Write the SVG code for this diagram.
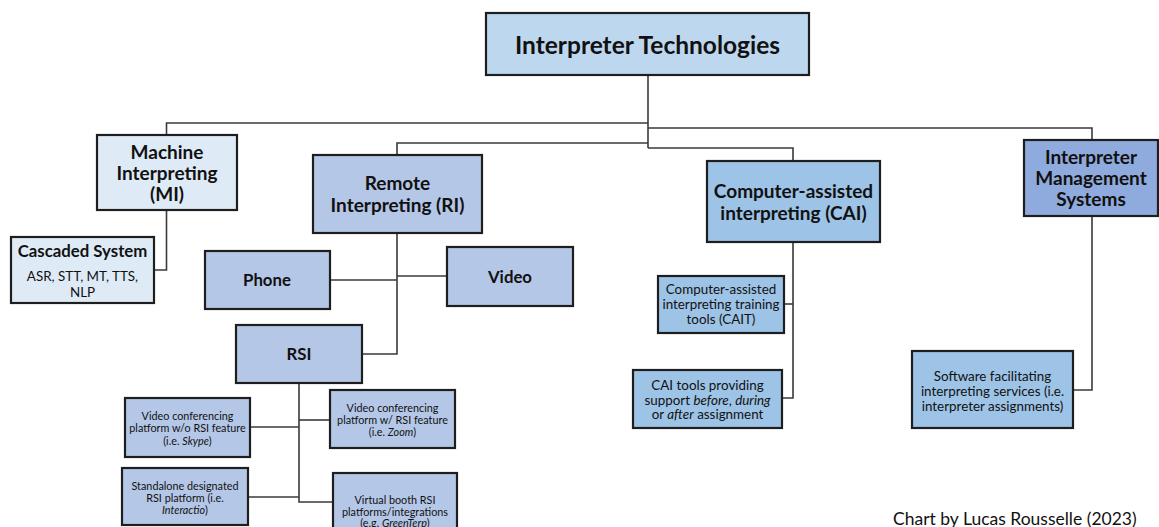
<svg xmlns="http://www.w3.org/2000/svg" width="1159" height="527" viewBox="0 0 1159 527">
<style>
.box{stroke:#1e1e1e;stroke-width:2.2}
.c0{fill:#bdd7ee}.c1{fill:#deebf7}.c2{fill:#b4c7e7}.c3{fill:#9dc3e6}.c4{fill:#8faadc}
text{font-family:Lato,"Open Sans","Liberation Sans",sans-serif;fill:#111;text-anchor:middle;dominant-baseline:central}
.h{font-weight:bold;font-size:19px}
.m{font-weight:bold;font-size:16.8px}
.s{font-size:13.4px}
.xs{font-size:10.8px}
.conn{fill:none;stroke:#3a3a3a;stroke-width:1.6}
</style>
<rect width="1159" height="527" fill="#fff"/>
<g id="connectors" class="conn">
<path d="M648,76V148"/>
<path d="M648,123H166.5V135"/>
<path d="M648,128H1092V140"/>
<path d="M648,143H397V155"/>
<path d="M648,148H793V161"/>
<path d="M166.5,210V270H154"/>
<path d="M397,233V354H362"/>
<path d="M330,280H397"/>
<path d="M397,276H447"/>
<path d="M299,383V502H333"/>
<path d="M250,427H299"/>
<path d="M299,420H330"/>
<path d="M248,497H299"/>
<path d="M793,242V398H782"/>
<path d="M784,304H793"/>
<path d="M1092,216V390H1073"/>
</g>
<g id="root"><rect class="box c0" x="486" y="13" width="323" height="62"/><text x="647.5" y="44" style="font-weight:bold;font-size:24.5px">Interpreter Technologies</text></g>
<g id="mi"><rect class="box c1" x="97" y="135" width="140" height="75"/><text class="h" x="167" y="151">Machine</text><text class="h" x="167" y="172">Interpreting</text><text class="h" x="167" y="193.5">(MI)</text></g>
<g id="cascaded"><rect class="box c1" x="11" y="237" width="143" height="66"/><text class="m" x="82.5" y="250">Cascaded System</text><text class="s" x="82.5" y="276">ASR, STT, MT, TTS,</text><text class="s" x="82.5" y="292">NLP</text></g>
<g id="ri"><rect class="box c2" x="313" y="155" width="169" height="78"/><text class="h" x="397.5" y="182.5">Remote</text><text class="h" x="397.5" y="204">Interpreting (RI)</text></g>
<g id="phone"><rect class="box c2" x="205" y="251" width="125" height="58"/><text class="m" x="267" y="279">Phone</text></g>
<g id="video"><rect class="box c2" x="447" y="247" width="126" height="59"/><text class="m" x="510" y="276">Video</text></g>
<g id="rsi"><rect class="box c2" x="236" y="325" width="126" height="58"/><text class="m" x="299" y="353">RSI</text></g>
<g id="vc-wo"><rect class="box c2" x="125" y="398" width="125" height="59"/><text class="xs" x="187.5" y="415">Video conferencing</text><text class="xs" x="187.5" y="427">platform w/o RSI feature</text><text class="xs" x="187.5" y="440">(i.e. <tspan font-style="italic">Skype</tspan>)</text></g>
<g id="vc-w"><rect class="box c2" x="330" y="390" width="125" height="58"/><text class="xs" x="392.5" y="407">Video conferencing</text><text class="xs" x="392.5" y="419">platform w/ RSI feature</text><text class="xs" x="392.5" y="431">(i.e. <tspan font-style="italic">Zoom</tspan>)</text></g>
<g id="standalone"><rect class="box c2" x="122" y="468" width="126" height="57"/><text class="xs" x="185" y="485">Standalone designated</text><text class="xs" x="185" y="497">RSI platform (i.e.</text><text class="xs" x="185" y="509"><tspan font-style="italic">Interactio</tspan>)</text></g>
<g id="virtual"><rect class="box c2" x="333" y="473" width="124" height="58"/><text class="xs" x="395" y="499">Virtual booth RSI</text><text class="xs" x="395" y="511">platforms/integrations</text><text class="xs" x="395" y="522">(e.g. <tspan font-style="italic">GreenTerp</tspan>)</text></g>
<g id="cai"><rect class="box c3" x="707" y="161" width="173" height="81"/><text class="h" x="793.5" y="190">Computer-assisted</text><text class="h" x="793.5" y="212">interpreting (CAI)</text></g>
<g id="cait"><rect class="box c3" x="658" y="276" width="126" height="57"/><text class="s" x="721" y="289">Computer-assisted</text><text class="s" x="721" y="304">interpreting training</text><text class="s" x="721" y="319">tools (CAIT)</text></g>
<g id="caitools"><rect class="box c3" x="633" y="370" width="149" height="58"/><text class="s" x="707.5" y="385">CAI tools providing</text><text class="s" x="707.5" y="400">support <tspan font-style="italic">before</tspan>, <tspan font-style="italic">during</tspan></text><text class="s" x="707.5" y="414">or <tspan font-style="italic">after</tspan> assignment</text></g>
<g id="ims"><rect class="box c4" x="1024" y="140" width="134" height="76"/><text class="h" x="1091" y="156.5">Interpreter</text><text class="h" x="1091" y="177.5">Management</text><text class="h" x="1091" y="198.5">Systems</text></g>
<g id="software"><rect class="box c3" x="912" y="351" width="161" height="77"/><text class="s" x="992.5" y="376">Software facilitating</text><text class="s" x="992.5" y="391">interpreting services (i.e.</text><text class="s" x="992.5" y="406">interpreter assignments)</text></g>
<text x="893" y="525" style="font-size:17.5px;text-anchor:start;dominant-baseline:auto">Chart by Lucas Rousselle (2023)</text>
</svg>
